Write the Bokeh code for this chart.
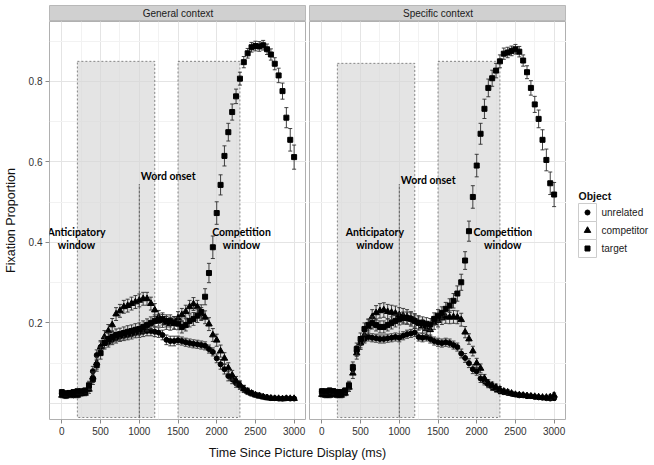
from bokeh.plotting import figure
from bokeh.layouts import row, column
from bokeh.models import Range1d, FixedTicker, Grid, LinearAxis
from bokeh.core.properties import value
from bokeh.embed import file_html
from bokeh.resources import INLINE

# ---------------- data ----------------
times = list(range(0, 3001, 50))

panel_titles = ["General context", "Specific context"]
object_labels = ["unrelated", "competitor", "target"]

gen_unrel = [0.025, 0.022, 0.024, 0.020, 0.025, 0.026, 0.028, 0.040, 0.080, 0.120,
             0.140, 0.150, 0.152, 0.158, 0.162, 0.166, 0.168, 0.170, 0.172, 0.175,
             0.176, 0.178, 0.180, 0.180, 0.178, 0.176, 0.170, 0.158, 0.155, 0.155,
             0.157, 0.155, 0.152, 0.150, 0.148, 0.147, 0.145, 0.143, 0.135, 0.128,
             0.112, 0.097, 0.085, 0.068, 0.060, 0.050, 0.044, 0.036, 0.030, 0.026,
             0.022, 0.020, 0.017, 0.015, 0.013, 0.013, 0.012, 0.012, 0.013, 0.012,
             0.012]
gen_comp = [0.020, 0.018, 0.020, 0.022, 0.020, 0.024, 0.025, 0.035, 0.065, 0.100,
            0.140, 0.165, 0.180, 0.195, 0.222, 0.230, 0.240, 0.243, 0.248, 0.252,
            0.256, 0.260, 0.260, 0.248, 0.232, 0.215, 0.205, 0.200, 0.198, 0.200,
            0.212, 0.220, 0.228, 0.240, 0.247, 0.240, 0.222, 0.214, 0.197, 0.170,
            0.157, 0.130, 0.112, 0.088, 0.070, 0.056, 0.046, 0.036, 0.030, 0.025,
            0.021, 0.018, 0.016, 0.014, 0.013, 0.012, 0.012, 0.011, 0.012, 0.012,
            0.012]
gen_targ = [0.028, 0.025, 0.026, 0.028, 0.030, 0.030, 0.032, 0.045, 0.060, 0.095,
            0.125, 0.150, 0.160, 0.165, 0.170, 0.172, 0.175, 0.178, 0.180, 0.183,
            0.185, 0.190, 0.195, 0.200, 0.205, 0.207, 0.210, 0.205, 0.205, 0.200,
            0.198, 0.190, 0.195, 0.205, 0.210, 0.218, 0.227, 0.265, 0.324, 0.388,
            0.473, 0.543, 0.615, 0.674, 0.724, 0.763, 0.807, 0.848, 0.870, 0.885,
            0.888, 0.887, 0.890, 0.880, 0.867, 0.844, 0.815, 0.776, 0.710, 0.655,
            0.612]

spe_unrel = [0.030, 0.028, 0.025, 0.030, 0.027, 0.025, 0.028, 0.040, 0.085, 0.130,
             0.150, 0.160, 0.165, 0.163, 0.162, 0.160, 0.160, 0.162, 0.163, 0.165,
             0.163, 0.168, 0.172, 0.174, 0.176, 0.165, 0.163, 0.165, 0.160, 0.155,
             0.152, 0.150, 0.152, 0.150, 0.145, 0.140, 0.124, 0.113, 0.100, 0.085,
             0.080, 0.062, 0.055, 0.047, 0.040, 0.035, 0.030, 0.028, 0.026, 0.024,
             0.022, 0.020, 0.020, 0.018, 0.018, 0.016, 0.015, 0.014, 0.013, 0.012,
             0.013]
spe_comp = [0.022, 0.020, 0.020, 0.022, 0.020, 0.020, 0.025, 0.040, 0.075, 0.125,
            0.150, 0.170, 0.190, 0.215, 0.225, 0.230, 0.232, 0.228, 0.226, 0.224,
            0.220, 0.218, 0.215, 0.210, 0.205, 0.200, 0.192, 0.185, 0.183, 0.200,
            0.206, 0.212, 0.215, 0.214, 0.215, 0.214, 0.208, 0.177, 0.160, 0.130,
            0.100, 0.087, 0.062, 0.050, 0.045, 0.040, 0.035, 0.030, 0.028, 0.025,
            0.022, 0.021, 0.020, 0.019, 0.018, 0.017, 0.016, 0.015, 0.015, 0.016,
            0.020]
spe_targ = [0.030, 0.030, 0.032, 0.030, 0.028, 0.028, 0.032, 0.045, 0.090, 0.135,
            0.160, 0.185, 0.195, 0.200, 0.195, 0.190, 0.190, 0.195, 0.200, 0.205,
            0.210, 0.212, 0.212, 0.210, 0.205, 0.200, 0.200, 0.198, 0.196, 0.210,
            0.218, 0.225, 0.235, 0.243, 0.255, 0.273, 0.301, 0.355, 0.428, 0.513,
            0.591, 0.670, 0.732, 0.784, 0.808, 0.827, 0.850, 0.869, 0.872, 0.876,
            0.880, 0.874, 0.852, 0.823, 0.784, 0.743, 0.707, 0.655, 0.605, 0.547,
            0.519]

# standard errors (half-length of error bars)
gen_unrel_se = [0.006, 0.006, 0.006, 0.006, 0.006, 0.006, 0.006, 0.010, 0.012, 0.013,
                0.013, 0.012, 0.012, 0.012, 0.012, 0.012, 0.012, 0.012, 0.012, 0.012,
                0.012, 0.012, 0.012, 0.012, 0.012, 0.012, 0.012, 0.012, 0.012, 0.012,
                0.010, 0.010, 0.010, 0.010, 0.010, 0.010, 0.010, 0.010, 0.010, 0.010,
                0.011, 0.012, 0.012, 0.012, 0.011, 0.010, 0.009, 0.008, 0.007, 0.006,
                0.005, 0.005, 0.005, 0.005, 0.005, 0.004, 0.004, 0.004, 0.004, 0.004,
                0.004]
gen_comp_se = [0.006, 0.006, 0.006, 0.006, 0.006, 0.006, 0.006, 0.010, 0.013, 0.015,
               0.016, 0.016, 0.016, 0.016, 0.016, 0.016, 0.016, 0.016, 0.016, 0.016,
               0.016, 0.016, 0.016, 0.016, 0.016, 0.016, 0.016, 0.016, 0.016, 0.016,
               0.016, 0.016, 0.016, 0.016, 0.016, 0.016, 0.016, 0.016, 0.016, 0.016,
               0.015, 0.015, 0.014, 0.013, 0.012, 0.011, 0.010, 0.009, 0.008, 0.007,
               0.006, 0.005, 0.005, 0.005, 0.004, 0.004, 0.004, 0.004, 0.004, 0.004,
               0.004]
gen_targ_se = [0.006, 0.006, 0.006, 0.006, 0.006, 0.006, 0.006, 0.010, 0.013, 0.015,
               0.015, 0.015, 0.015, 0.015, 0.015, 0.015, 0.015, 0.015, 0.015, 0.015,
               0.015, 0.015, 0.015, 0.015, 0.015, 0.015, 0.015, 0.015, 0.015, 0.015,
               0.015, 0.015, 0.015, 0.015, 0.016, 0.017, 0.018, 0.020, 0.024, 0.028,
               0.028, 0.025, 0.025, 0.022, 0.020, 0.018, 0.016, 0.014, 0.012, 0.012,
               0.012, 0.012, 0.012, 0.013, 0.014, 0.015, 0.018, 0.020, 0.025, 0.028,
               0.030]
spe_unrel_se = [0.006, 0.006, 0.006, 0.006, 0.006, 0.006, 0.006, 0.010, 0.012, 0.013,
                0.012, 0.010, 0.010, 0.010, 0.010, 0.010, 0.010, 0.010, 0.010, 0.010,
                0.010, 0.010, 0.010, 0.010, 0.010, 0.010, 0.010, 0.010, 0.010, 0.010,
                0.010, 0.010, 0.010, 0.010, 0.010, 0.010, 0.011, 0.011, 0.011, 0.011,
                0.010, 0.010, 0.009, 0.008, 0.008, 0.007, 0.006, 0.006, 0.005, 0.005,
                0.005, 0.005, 0.005, 0.004, 0.004, 0.004, 0.004, 0.004, 0.004, 0.004,
                0.005]
spe_comp_se = [0.006, 0.006, 0.006, 0.006, 0.006, 0.006, 0.006, 0.010, 0.013, 0.015,
               0.016, 0.017, 0.018, 0.018, 0.018, 0.018, 0.018, 0.018, 0.018, 0.018,
               0.018, 0.018, 0.018, 0.018, 0.018, 0.018, 0.017, 0.016, 0.016, 0.016,
               0.016, 0.016, 0.016, 0.016, 0.016, 0.016, 0.016, 0.014, 0.013, 0.012,
               0.012, 0.011, 0.010, 0.009, 0.008, 0.008, 0.007, 0.006, 0.006, 0.005,
               0.005, 0.005, 0.005, 0.004, 0.004, 0.004, 0.004, 0.004, 0.004, 0.005,
               0.006]
spe_targ_se = [0.006, 0.006, 0.006, 0.006, 0.006, 0.006, 0.006, 0.010, 0.013, 0.015,
               0.015, 0.015, 0.015, 0.015, 0.015, 0.015, 0.015, 0.015, 0.015, 0.015,
               0.015, 0.015, 0.015, 0.015, 0.015, 0.015, 0.015, 0.015, 0.015, 0.015,
               0.015, 0.015, 0.016, 0.017, 0.018, 0.019, 0.020, 0.022, 0.025, 0.028,
               0.028, 0.026, 0.024, 0.022, 0.020, 0.018, 0.016, 0.014, 0.013, 0.012,
               0.012, 0.013, 0.014, 0.016, 0.018, 0.020, 0.022, 0.025, 0.027, 0.028,
               0.030]

# analysis windows and word onset (ms / proportion)
window_left = [200, 1500]
window_right = [1200, 2300]
window_bottom = [-0.035, -0.035]
window_top_general = [0.850, 0.850]
window_top_specific = [0.845, 0.850]
onset_time = [1000]
onset_bottom = [-0.035]
onset_top = [0.545]

x_ticks = [0, 500, 1000, 1500, 2000, 2500, 3000]
x_minor = [250, 750, 1250, 1750, 2250, 2750]
y_ticks = [0.2, 0.4, 0.6, 0.8]
y_minor = [0.1, 0.3, 0.5, 0.7, 0.9]

x_limits = (-160, 3160)
y_limits = (-0.04, 0.949)

# ------------- styling -------------
FONT = value("Liberation Sans")
NOTE_FONT = value("Lato")
FRAME_W = 257
FRAME_H = 398
CAP = 26  # half width of error-bar caps (ms)


def make_strip(label, left_border):
    s = figure(frame_width=FRAME_W, frame_height=15, min_border_left=left_border,
               min_border_right=0, min_border_top=5, min_border_bottom=1,
               x_range=Range1d(0, 1), y_range=Range1d(0, 1),
               x_axis_location=None, y_axis_location=None,
               toolbar_location=None, output_backend="svg",
               background_fill_color="#d0d0d0", border_fill_color="white",
               outline_line_color="#b8b8b8")
    s.grid.visible = False
    s.text(x=[0.5], y=[0.47], text=[label], text_align="center",
           text_baseline="middle", text_font=FONT, text_font_size="10px",
           text_color="#1a1a1a")
    return s


def add_series(p, vals, se, marker, size):
    lo = [v - e for v, e in zip(vals, se)]
    hi = [v + e for v, e in zip(vals, se)]
    xl = [t - CAP for t in times]
    xr = [t + CAP for t in times]
    p.segment(x0=times, y0=lo, x1=times, y1=hi, line_color="#2e2e2e", line_width=0.9)
    p.segment(x0=xl, y0=lo, x1=xr, y1=lo, line_color="#2e2e2e", line_width=0.9)
    p.segment(x0=xl, y0=hi, x1=xr, y1=hi, line_color="#2e2e2e", line_width=0.9)
    p.scatter(x=times, y=vals, marker=marker, size=size, fill_color="black",
              line_color="black")


def make_panel(series, tops, notes, left_border, show_y):
    p = figure(frame_width=FRAME_W, frame_height=FRAME_H,
               x_range=Range1d(*x_limits), y_range=Range1d(*y_limits),
               min_border_left=left_border, min_border_right=0,
               min_border_top=0, min_border_bottom=22,
               x_axis_location=None, y_axis_location=None,
               toolbar_location=None, output_backend="svg",
               background_fill_color="white", border_fill_color="white",
               outline_line_color="#b0b0b0")
    xt = FixedTicker(ticks=x_ticks, minor_ticks=x_minor)
    yt = FixedTicker(ticks=y_ticks, minor_ticks=y_minor)
    p.add_layout(Grid(dimension=0, ticker=xt, grid_line_color="#e4e4e4",
                      minor_grid_line_color="#f2f2f2"))
    p.add_layout(Grid(dimension=1, ticker=yt, grid_line_color="#e4e4e4",
                      minor_grid_line_color="#f2f2f2"))
    xa = LinearAxis(ticker=xt)
    axes = [xa]
    p.add_layout(xa, "below")
    if show_y:
        ya = LinearAxis(ticker=yt, axis_label="Fixation Proportion")
        ya.axis_label_text_font = "Liberation Sans"
        ya.axis_label_text_font_size = "12.5px"
        ya.axis_label_text_font_style = "normal"
        ya.axis_label_text_color = "#111111"
        ya.axis_label_standoff = 8
        p.add_layout(ya, "left")
        axes.append(ya)
    for a in axes:
        a.axis_line_color = None
        a.major_tick_line_color = "#8a8a8a"
        a.major_tick_out = 4
        a.major_tick_in = 0
        a.minor_tick_line_color = None
        a.major_label_text_font = "Liberation Sans"
        a.major_label_text_font_size = "10px"
        a.major_label_text_color = "#333333"
        a.major_label_standoff = 3

    p.quad(left=window_left, right=window_right, bottom=window_bottom, top=tops,
           fill_color="#d6d6d6", fill_alpha=0.65, line_color="#6a6a6a",
           line_dash="2 2", line_width=0.8)
    p.segment(x0=onset_time, y0=onset_bottom, x1=onset_time, y1=onset_top,
              line_color="#555555", line_width=1, line_dash="3 1")

    (u, su), (c, sc), (t, st) = series
    add_series(p, u, su, "circle", 5)
    add_series(p, c, sc, "triangle", 6.5)
    add_series(p, t, st, "square", 5)

    for (nx, ny, txt) in notes:
        p.text(x=[nx], y=[ny], text=[txt], text_align="center",
               text_baseline="middle", text_font=NOTE_FONT,
               text_font_style="bold", text_font_size="10.5px",
               text_color="black")
    return p


notes_general = [(189, 0.425, "Anticipatory"), (189, 0.393, "window"),
                 (2320, 0.425, "Competition"), (2320, 0.393, "window"),
                 (1373, 0.566, "Word onset")]
notes_specific = [(684, 0.425, "Anticipatory"), (684, 0.393, "window"),
                  (2337, 0.425, "Competition"), (2337, 0.393, "window"),
                  (1373, 0.554, "Word onset")]

s1 = make_strip(panel_titles[0], 49)
p1 = make_panel([(gen_unrel, gen_unrel_se), (gen_comp, gen_comp_se), (gen_targ, gen_targ_se)],
                window_top_general, notes_general, 49, True)
s2 = make_strip(panel_titles[1], 3)
p2 = make_panel([(spe_unrel, spe_unrel_se), (spe_comp, spe_comp_se), (spe_targ, spe_targ_se)],
                window_top_specific, notes_specific, 3, False)

# ------------- legend -------------
LEG_W, LEG_H = 86, 441
leg = figure(width=LEG_W, height=LEG_H, x_range=Range1d(0, LEG_W), y_range=Range1d(LEG_H, 0),
             min_border=0, x_axis_location=None, y_axis_location=None,
             toolbar_location=None, output_backend="svg", outline_line_color=None,
             background_fill_color="white", border_fill_color="white")
leg.grid.visible = False
leg.text(x=[12], y=[195], text=["Object"], text_align="left", text_baseline="middle",
         text_font=FONT, text_font_style="bold", text_font_size="10.5px",
         text_color="#111111")
key_y = [212, 230, 248]
leg.rect(x=[21, 21, 21], y=key_y, width=18, height=18, fill_color="white",
         line_color="#cccccc", line_width=1)
for ky, mk, sz in zip(key_y, ["circle", "triangle", "square"], [5, 6.5, 5]):
    leg.scatter(x=[21], y=[ky], marker=mk, size=sz, fill_color="black", line_color="black")
leg.text(x=[35, 35, 35], y=key_y, text=object_labels, text_align="left",
         text_baseline="middle", text_font=FONT, text_font_size="10px",
         text_color="#1a1a1a")

# ------------- x axis title -------------
XT_W, XT_H = 566, 24
xtitle = figure(width=XT_W, height=XT_H, x_range=Range1d(0, XT_W), y_range=Range1d(XT_H, 0),
                min_border=0, x_axis_location=None, y_axis_location=None,
                toolbar_location=None, output_backend="svg", outline_line_color=None,
                background_fill_color="white", border_fill_color="white")
xtitle.grid.visible = False
xtitle.text(x=[297], y=[11], text=["Time Since Picture Display (ms)"], text_align="center",
            text_baseline="middle", text_font=FONT, text_font_size="12.5px",
            text_color="#111111")

layout = column(row(column(s1, p1), column(s2, p2), leg), xtitle)

open("out.html", "w").write(file_html(layout, INLINE))
